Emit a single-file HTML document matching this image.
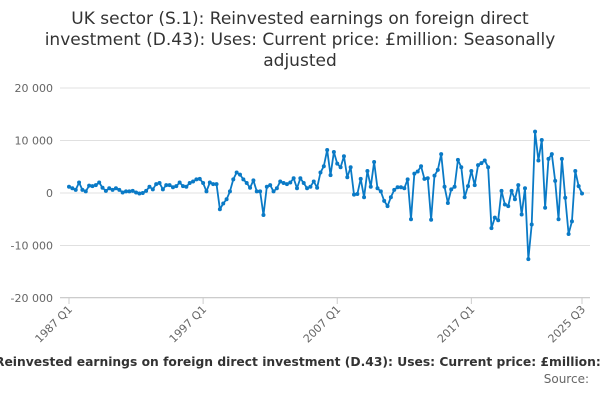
<!DOCTYPE html>
<html><head><meta charset="utf-8"><style>
body{margin:0;background:#fff;width:600px;height:400px;overflow:hidden;font-family:"Liberation Sans","DejaVu Sans",sans-serif}
</style></head><body>
<svg width="600" height="400" font-family="DejaVu Sans, Liberation Sans, sans-serif">
<g font-size="17" fill="#333" text-anchor="middle">
<text x="300" y="24">UK sector (S.1): Reinvested earnings on foreign direct</text>
<text x="300" y="45">investment (D.43): Uses: Current price: £million: Seasonally</text>
<text x="300" y="66">adjusted</text>
</g>
<g id="grid"></g><g id="yt"></g><g id="xt"></g><g id="series"></g>
<text x="-5" y="366" font-size="12.3" font-weight="bold" fill="#333" text-anchor="start">Reinvested earnings on foreign direct investment (D.43): Uses: Current price: £million: Seasonally adjusted</text>
<text x="589" y="383" font-size="12" fill="#666" text-anchor="end">Source:</text>
</svg>
<script>
const values=[1200,900,600,2000,600,300,1400,1300,1500,2000,1000,400,900,600,900,600,100,300,300,400,100,-100,0,400,1200,700,1700,1900,700,1500,1500,1100,1300,2000,1300,1200,
1900,2200,2600,2700,1900,300,2000,1700,1700,-3100,-2000,-1200,300,2600,3900,3500,2600,1900,1000,2400,300,300,-4200,1200,1500,300,900,2200,1900,1700,2000,2800,900,2800,1900,900,1200,2200,
1000,3900,5100,8200,3400,7800,5600,4900,7000,3000,4900,-300,-200,2700,-800,4200,1200,5900,900,300,-1500,-2500,-800,600,1100,1100,900,2600,-5000,3700,4100,5100,2700,2800,-5100,3300,4400,7400,1200,-1900,700,1200,6300,
4900,-800,1300,4200,1500,5300,5700,6200,4900,-6700,-4700,-5200,400,-2200,-2500,400,-1200,1500,-4100,900,-12600,-6000,11700,6200,10100,-2800,6500,7400,2300,-5000,6500,-900,-7800,-5400,4200,1300,-100];
const yTicks=[20000,10000,0,-10000,-20000];
const yTickLabels=["20 000","10 000","0","-10 000","-20 000"];
const xTickIdx=[0,40,80,120,153];
const xTickLabels=["1987 Q1","1997 Q1","2007 Q1","2017 Q1","2025 Q3"];
const NS="http://www.w3.org/2000/svg";
const X0=69,X1=582,Y0=193,PX=105/20000;
const xs=i=>X0+i*(X1-X0)/(values.length-1);
const ys=v=>Y0-v*PX;
function mk(t,a,p){const e=document.createElementNS(NS,t);for(const k in a)e.setAttribute(k,a[k]);p.appendChild(e);return e;}
const grid=document.getElementById('grid'),yt=document.getElementById('yt'),xt=document.getElementById('xt'),ser=document.getElementById('series');
yTicks.forEach((v,k)=>{
 const l=mk('line',{x1:60,x2:590,y1:ys(v),y2:ys(v),stroke:'#e0e0e0','stroke-width':1},grid);
 
 
 const t=mk('text',{x:53,y:ys(v)+4,'font-size':11,fill:'#666','text-anchor':'end'},yt);t.textContent=yTickLabels[k];
 
 
});
const ax=mk('line',{x1:60,x2:590,y1:297.5,y2:297.5,stroke:'#ccc'},xt);


xTickIdx.forEach((i,k)=>{
 const x=xs(i);
 const tk=mk('line',{x1:x,x2:x,y1:297,y2:304,stroke:'#ccc'},xt);
 
 
 const t=mk('text',{x:x+4,y:310,'font-size':11,fill:'#666','text-anchor':'end',transform:`rotate(-45 ${x+4} 310)`},xt);t.textContent=xTickLabels[k];
 
 
});
const p=mk('polyline',{points:values.map((v,i)=>xs(i)+','+ys(v)).join(' '),fill:'none',stroke:'#0a7ac6','stroke-width':1.8,'stroke-linejoin':'round'},ser);


values.forEach((v,i)=>{
 const c=mk('circle',{cx:xs(i),cy:ys(v),r:2,fill:'#0a7ac6'},ser);
 
 
});
</script>
</body></html>
